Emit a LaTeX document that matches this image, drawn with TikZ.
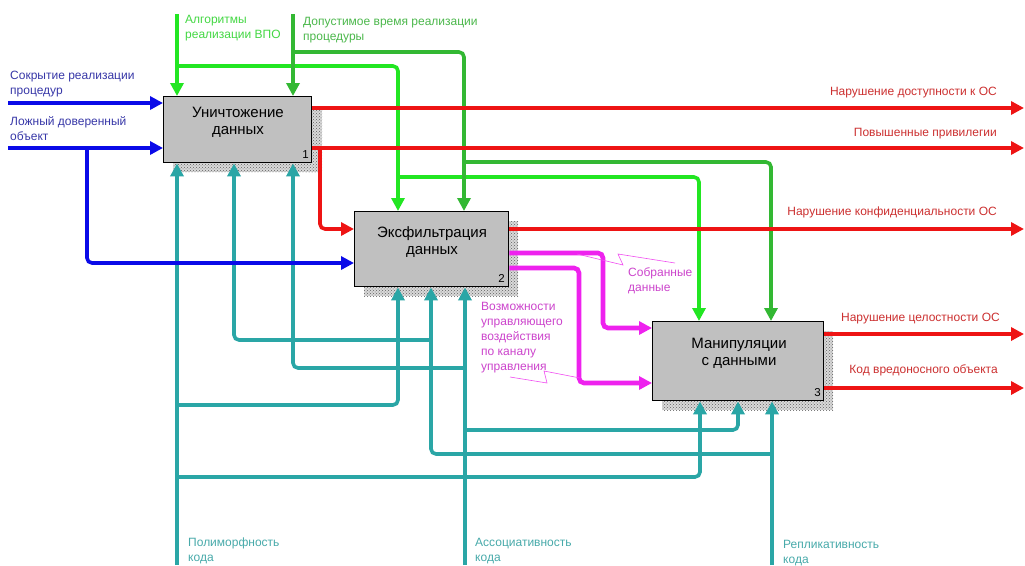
\documentclass[tikz,border=0pt]{standalone}
\usepackage{fontspec}
\setmainfont{Liberation Sans}
\usetikzlibrary{arrows.meta,patterns}
% line colours
\definecolor{inblue}{HTML}{0A0AE8}
\definecolor{ctlA}{HTML}{22E622}
\definecolor{ctlB}{HTML}{33B833}
\definecolor{outred}{HTML}{EE1414}
\definecolor{flowmag}{HTML}{EE22EE}
\definecolor{mechteal}{HTML}{2AA6A6}
\definecolor{boxgray}{HTML}{C0C0C0}
% label colours
\definecolor{txblue}{HTML}{3838A8}
\definecolor{txgreenA}{HTML}{44D844}
\definecolor{txgreenB}{HTML}{4CB84C}
\definecolor{txred}{HTML}{CC3030}
\definecolor{txmag}{HTML}{CC44CC}
\definecolor{txteal}{HTML}{48AAAA}
\begin{document}
\begin{tikzpicture}[x=1pt,y=-1pt,
  funcbox/.style={draw=black, line width=1.4pt, fill=boxgray, anchor=north west, inner sep=0pt},
  boxshadow/.style={fill=gray!30, postaction={pattern=crosshatch dots, pattern color=gray!75!black}},
  boxtitle/.style={align=center, inner sep=0pt, anchor=north, font=\fontsize{15}{17}\selectfont},
  boxnum/.style={inner sep=0pt, font=\fontsize{11.5}{13}\selectfont},
  arrowline/.style={line width=3.6pt, rounded corners=5pt, -{Triangle[length=13pt,width=13pt]}},
  lbl/.style={align=left, inner sep=0pt, anchor=north west, font=\fontsize{12}{15}\selectfont},
  rlbl/.style={align=right, inner sep=0pt, anchor=north east, font=\fontsize{12}{15}\selectfont},
  leader/.style={flowmag!80!white, line width=0.6pt}
]
\useasboundingbox (0,0) rectangle (1025,565);
\fill[white] (0,0) rectangle (1025,565);

% ---- shadows of the function boxes
\fill[boxshadow] (173,106) rectangle (322,172);
\fill[boxshadow] (364,221) rectangle (518,296);
\fill[boxshadow] (662,331) rectangle (833,410);

% ---- function boxes
\node[funcbox, minimum width=148pt, minimum height=66pt] (b1) at (163,96) {};
\node[funcbox, minimum width=154pt, minimum height=75pt] (b2) at (354,211) {};
\node[funcbox, minimum width=171pt, minimum height=79pt] (b3) at (652,321) {};

\node[boxtitle] (t1) at (238,107) {Уничтожение\\данных};
\node[boxtitle] (t2) at (432,226) {Эксфильтрация\\данных};
\node[boxtitle] (t3) at (739,338) {Манипуляции\\с данными};

\node[boxnum, anchor=south east] (n1) at (309,159) {1};
\node[boxnum, anchor=south east] (n2) at (505,283) {2};
\node[boxnum, anchor=south east] (n3) at (821,397) {3};

% ---- free ends of the connectors
\coordinate (inA) at (8,103);
\coordinate (inB) at (8,148);
\coordinate (ctlAtop) at (177,14);
\coordinate (ctlBtop) at (293,14);
\coordinate (mPoly) at (177,565);
\coordinate (mAssoc) at (465,565);
\coordinate (mRepl) at (772,565);
\coordinate (out1) at (1024,108);
\coordinate (out2) at (1024,148);
\coordinate (out3) at (1024,229);
\coordinate (out4) at (1024,334);
\coordinate (out5) at (1024,388);

% ---- mechanisms (teal)
\draw[arrowline, mechteal] (mPoly) -- (177,0 |- b1.south);
\draw[arrowline, mechteal] (177,405) -- (398,405) -- (398,0 |- b2.south);
\draw[arrowline, mechteal] (177,477) -- (700,477) -- (700,0 |- b3.south);
\draw[arrowline, mechteal] (mAssoc) -- (465,0 |- b2.south);
\draw[arrowline, mechteal] (465,430) -- (738,430) -- (738,0 |- b3.south);
\draw[arrowline, mechteal] (465,368) -- (293,368) -- (293,0 |- b1.south);
\draw[arrowline, mechteal] (mRepl) -- (772,0 |- b3.south);
\draw[arrowline, mechteal] (772,454) -- (431,454) -- (431,0 |- b2.south);
\draw[arrowline, mechteal] (431,340) -- (234,340) -- (234,0 |- b1.south);

% ---- inputs (blue)
\draw[arrowline, inblue] (inA) -- (inA -| b1.west);
\draw[arrowline, inblue] (inB) -- (inB -| b1.west);
\draw[arrowline, inblue] (87,148) -- (87,263) -- (0,263 -| b2.west);

% ---- controls (green)
\draw[arrowline, ctlA] (ctlAtop) -- (177,0 |- b1.north);
\draw[arrowline, ctlA] (177,66) -- (398,66) -- (398,0 |- b2.north);
\draw[arrowline, ctlA] (398,177) -- (699,177) -- (699,0 |- b3.north);
\draw[arrowline, ctlB] (ctlBtop) -- (293,0 |- b1.north);
\draw[arrowline, ctlB] (293,52) -- (464,52) -- (464,0 |- b2.north);
\draw[arrowline, ctlB] (464,162) -- (771,162) -- (771,0 |- b3.north);

% ---- outputs (red)
\draw[arrowline, outred] (b1.east |- out1) -- (out1);
\draw[arrowline, outred] (b1.east |- out2) -- (out2);
\draw[arrowline, outred] (320,148) -- (320,229) -- (0,229 -| b2.west);
\draw[arrowline, outred] (b2.east |- out3) -- (out3);
\draw[arrowline, outred] (b3.east |- out4) -- (out4);
\draw[arrowline, outred] (b3.east |- out5) -- (out5);

% ---- flows from box 2 to box 3 (magenta)
\draw[arrowline, flowmag, line width=4.6pt] (0,253 -| b2.east) -- (603,253) -- (603,328) -- (0,328 -| b3.west);
\draw[arrowline, flowmag, line width=4.6pt] (0,268 -| b2.east) -- (579,268) -- (579,383) -- (0,383 -| b3.west);
\draw[leader] (577,254) -- (623,265) -- (618,254) -- (675,263);
\draw[leader] (510,377) -- (547,383) -- (544,371) -- (580,378);

% ---- labels
\node[lbl, txblue] (lInA) at (10,71) {Сокрытие реализации\\процедур};
\node[lbl, txblue] (lInB) at (10,116) {Ложный доверенный\\объект};
\node[lbl, txgreenA] (lCtlA) at (185,15) {Алгоритмы\\реализации ВПО};
\node[lbl, txgreenB] (lCtlB) at (303,17) {Допустимое время реализации\\процедуры};
\node[rlbl, txred] (lOut1) at (997,87) {Нарушение доступности к ОС};
\node[rlbl, txred] (lOut2) at (997,128) {Повышенные привилегии};
\node[rlbl, txred] (lOut3) at (997,207) {Нарушение конфиденциальности ОС};
\node[rlbl, txred] (lOut4) at (1000,313) {Нарушение целостности ОС};
\node[rlbl, txred] (lOut5) at (998,364) {Код вредоносного объекта};
\node[lbl, txmag] (lFlowA) at (628,267) {Собранные\\данные};
\node[lbl, txmag] (lFlowB) at (481,302) {Возможности\\управляющего\\воздействия\\по каналу\\управления};
\node[lbl, txteal] (lPoly) at (188,538) {Полиморфность\\кода};
\node[lbl, txteal] (lAssoc) at (475,538) {Ассоциативность\\кода};
\node[lbl, txteal] (lRepl) at (783,540) {Репликативность\\кода};
\end{tikzpicture}
\end{document}
